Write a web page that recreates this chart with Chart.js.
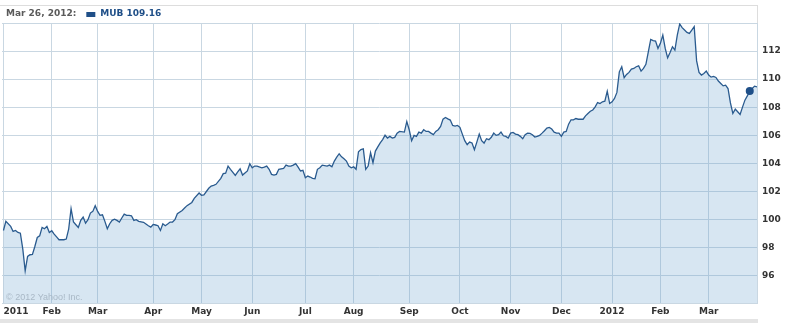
<!DOCTYPE html>
<html lang="en">
<head>
  <meta charset="UTF-8">
  <title>MUB</title>
  <script src="https://cdn.jsdelivr.net/npm/chart.js"></script>
  <style>
    body {
      margin: 0;
      padding: 0;
      background: #fff;
    }
    #wrap {
      width: 789px;
      height: 323px;
      position: relative;
    }
  </style>
</head>
<body>
  <div id="wrap"><canvas id="mubChart"></canvas></div>

  <script>
    // trading-day index (0 = Jan 3, 2011) and closing price
    const days = [
      0, 1, 3, 4, 5, 6, 7, 8, 9, 10, 11, 12, 13, 14, 15, 16, 17, 18, 19, 20,
      21, 22, 23, 25, 26, 27, 28, 29, 30, 31, 32, 33, 34, 35, 36, 37, 38, 39, 40, 41,
      42, 43, 44, 45, 46, 47, 48, 49, 50, 51, 52, 53, 54, 55, 56, 57, 58, 59, 60, 61,
      62, 63, 64, 65, 66, 67, 68, 69, 70, 71, 72, 74, 75, 76, 78, 79, 81, 82, 83, 85,
      86, 87, 88, 90, 91, 92, 93, 94, 96, 97, 98, 99, 101, 102, 103, 104, 105, 107, 108, 109,
      110, 111, 112, 113, 114, 116, 117, 118, 119, 120, 121, 122, 123, 124, 125, 126, 127, 128, 129, 130,
      131, 132, 134, 135, 136, 137, 138, 139, 140, 141, 142, 143, 144, 145, 146, 147, 148, 149, 150, 151,
      152, 153, 154, 155, 156, 157, 158, 159, 160, 161, 162, 163, 164, 166, 167, 168, 169, 170, 171, 172,
      173, 174, 175, 176, 177, 178, 179, 180, 181, 182, 183, 184, 185, 186, 187, 188, 189, 190, 191, 192,
      193, 194, 195, 196, 197, 198, 199, 200, 201, 202, 203, 204, 205, 206, 207, 208, 209, 210, 211, 212,
      213, 214, 215, 216, 217, 218, 219, 220, 221, 222, 223, 224, 225, 226, 227, 228, 229, 230, 231, 232,
      233, 234, 235, 236, 237, 238, 240, 241, 242, 243, 244, 245, 246, 247, 248, 249, 250, 251, 252, 253,
      254, 255, 256, 257, 258, 259, 260, 261, 262, 263, 264, 265, 266, 267, 268, 269, 270, 271, 272, 273,
      274, 275, 276, 277, 278, 279, 280, 281, 282, 283, 284, 285, 286, 287, 288, 289, 290, 291, 292, 293,
      294, 295, 296, 297, 298, 299, 300, 301, 302, 303, 304, 305, 306, 307, 308, 309, 310, 311, 312
    ];
    const prices = [
      99.21, 99.86, 99.5, 99.14, 99.21, 99.07, 99.02, 97.9, 96.33, 97.36, 97.48, 97.5, 98.07, 98.71, 98.83, 99.43, 99.33, 99.5, 99.07, 99.19,
      98.95, 98.75, 98.55, 98.55, 98.6, 99.3, 100.76, 99.81, 99.62, 99.43, 99.93, 100.17, 99.74, 99.98, 100.45, 100.57, 100.98, 100.57, 100.29, 100.33,
      99.86, 99.33, 99.69, 99.93, 100.02, 99.93, 99.81, 100.1, 100.38, 100.29, 100.29, 100.26, 99.93, 99.98, 99.86, 99.83, 99.79, 99.67, 99.55, 99.45,
      99.64, 99.6, 99.55, 99.21, 99.69, 99.55, 99.67, 99.81, 99.81, 99.98, 100.4, 100.64, 100.81, 100.98, 101.21, 101.5, 101.88, 101.72, 101.74, 102.22,
      102.38, 102.43, 102.5, 102.93, 103.26, 103.3, 103.8, 103.57, 103.14, 103.38, 103.61, 103.16, 103.45, 103.97, 103.68, 103.8, 103.8, 103.68, 103.73, 103.8,
      103.57, 103.21, 103.16, 103.21, 103.57, 103.64, 103.87, 103.8, 103.8, 103.87, 103.97, 103.73, 103.45, 103.5, 102.97, 103.09, 103.02, 102.93, 102.9, 103.57,
      103.68, 103.87, 103.8, 103.87, 103.75, 104.16, 104.44, 104.68, 104.46, 104.32, 104.16, 103.8, 103.68, 103.75, 103.57, 104.82, 104.98, 105.03, 103.57, 103.8,
      104.75, 104.04, 104.87, 105.17, 105.46, 105.69, 106.0, 105.8, 105.92, 105.8, 105.85, 106.15, 106.27, 106.22, 106.98, 106.39, 105.61, 105.99, 105.92, 106.22,
      106.15, 106.39, 106.27, 106.27, 106.15, 106.04, 106.27, 106.39, 106.63, 107.15, 107.27, 107.17, 107.08, 106.7, 106.65, 106.7, 106.56, 106.08, 105.61, 105.33,
      105.51, 105.45, 104.97, 105.51, 106.08, 105.61, 105.44, 105.75, 105.68, 105.85, 106.15, 105.99, 106.04, 106.22, 105.96, 105.92, 105.8, 106.15, 106.2, 106.08,
      106.04, 105.92, 105.75, 106.04, 106.15, 106.13, 106.04, 105.87, 105.92, 105.99, 106.15, 106.32, 106.51, 106.56, 106.44, 106.22, 106.15, 106.15, 105.92, 106.22,
      106.27, 106.79, 107.1, 107.1, 107.19, 107.14, 107.14, 107.38, 107.55, 107.71, 107.8, 108.02, 108.33, 108.26, 108.38, 108.43, 109.14, 108.26, 108.38, 108.62,
      109.05, 110.52, 110.88, 110.1, 110.33, 110.48, 110.71, 110.76, 110.88, 110.95, 110.57, 110.76, 111.05, 111.95, 112.83, 112.74, 112.71, 112.19, 112.55, 113.14,
      112.19, 111.52, 111.9, 112.31, 112.07, 113.14, 113.93, 113.67, 113.5, 113.33, 113.26, 113.5, 113.74, 111.3, 110.48, 110.29, 110.4, 110.57, 110.29, 110.14,
      110.19, 110.12, 109.86, 109.69, 109.52, 109.57, 109.33, 108.3, 107.55, 107.86, 107.67, 107.48, 108.0, 108.5, 108.8, 109.16, 109.33, 109.5, 109.45
    ];

    // first trading day of each month, and its label
    const monthTicks = [0, 20, 39, 62, 82, 103, 125, 145, 168, 189, 210, 231, 252, 272, 292];
    const monthLabels = ['2011', 'Feb', 'Mar', 'Apr', 'May', 'Jun', 'Jul', 'Aug', 'Sep', 'Oct', 'Nov', 'Dec', '2012', 'Feb', 'Mar'];
    const priceTicks = [96, 98, 100, 102, 104, 106, 108, 110, 112, 114];

    const headerDate = 'Mar 26, 2012:';
    const headerSeries = 'MUB 109.16';
    const markedDay = 309;

    const gridColor = '#c9d7e2';
    const lineColor = '#2a5b8f';
    const axisFont = { family: 'DejaVu Sans', size: 9, weight: 'bold' };

    const frame = {
      id: 'frame',
      beforeDraw(chart) {
        const ctx = chart.ctx;
        const a = chart.chartArea;
        ctx.save();
        ctx.fillStyle = '#e4e4e4';
        ctx.fillRect(0, 319, a.right + 1, 4);
        ctx.strokeStyle = '#dddddd';
        ctx.lineWidth = 1;
        ctx.beginPath();
        ctx.moveTo(0, 5.5);
        ctx.lineTo(a.right + 1, 5.5);
        ctx.moveTo(a.right + 0.5, 5.5);
        ctx.lineTo(a.right + 0.5, a.top);
        ctx.stroke();
        ctx.restore();
      },
      afterDraw(chart) {
        const ctx = chart.ctx;
        const a = chart.chartArea;
        ctx.save();
        ctx.textBaseline = 'middle';
        ctx.font = 'bold 9px "DejaVu Sans"';
        ctx.fillStyle = '#5a5a5a';
        ctx.fillText(headerDate, 6, 14);
        const w = ctx.measureText(headerDate).width;
        ctx.fillStyle = '#1f4f88';
        ctx.fillRect(6 + w + 10, 12, 9, 5);
        ctx.fillText(headerSeries, 6 + w + 24, 14);
        ctx.font = '9px "Liberation Sans"';
        ctx.fillStyle = '#a9b8c6';
        ctx.textBaseline = 'alphabetic';
        ctx.fillText('\u00a9 2012 Yahoo! Inc.', 6, a.bottom - 3);
        ctx.restore();
      }
    };

    const chartCtx = document.getElementById('mubChart').getContext('2d');
    new Chart(chartCtx, {
      type: 'line',
      data: {
        datasets: [{
          label: 'MUB',
          data: days.map((d, i) => ({ x: d, y: prices[i] })),
          borderColor: lineColor,
          borderWidth: 1.3,
          backgroundColor: 'rgba(100, 158, 204, 0.26)',
          fill: 'start',
          tension: 0,
          pointRadius: c => (c.raw && c.raw.x === markedDay ? 4 : 0),
          pointBackgroundColor: '#1f4f88',
          pointBorderWidth: 0
        }]
      },
      options: {
        responsive: true,
        maintainAspectRatio: false,
        animation: false,
        layout: { padding: { left: 2, top: 23, right: 0, bottom: 0 } },
        plugins: {
          legend: { display: false },
          tooltip: { enabled: false }
        },
        scales: {
          x: {
            type: 'linear',
            min: -0.6,
            max: 312,
            afterBuildTicks: s => {
              s.ticks = monthTicks.concat([312]).map(v => ({ value: v }));
            },
            afterFit: s => { s.height = 20; },
            grid: { color: gridColor, drawTicks: false },
            border: { color: gridColor },
            ticks: {
              autoSkip: false,
              maxRotation: 0,
              align: 'inner',
              padding: 3,
              color: '#333333',
              font: axisFont,
              callback: v => {
                const k = monthTicks.indexOf(v);
                return k >= 0 ? monthLabels[k] : '';
              }
            }
          },
          y: {
            position: 'right',
            min: 94.04,
            max: 114,
            afterBuildTicks: s => {
              s.ticks = priceTicks.map(v => ({ value: v }));
            },
            afterFit: s => { s.width = 32; },
            grid: { color: gridColor, drawTicks: false },
            border: { color: gridColor },
            ticks: {
              padding: 5,
              color: '#333333',
              font: axisFont,
              callback: v => (v === 114 ? '' : String(v))
            }
          }
        }
      },
      plugins: [frame]
    });
  </script>
</body>
</html>
